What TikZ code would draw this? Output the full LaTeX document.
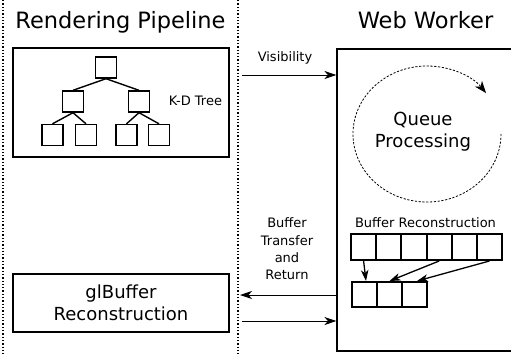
\documentclass[tikz,border=0pt]{standalone}
\usepackage{fontspec}
\setmainfont{DejaVu Sans}
\usetikzlibrary{arrows.meta}
\begin{document}
\begin{tikzpicture}[x=1pt,y=-1pt,
  sep/.style={line width=1.3pt, dash pattern=on 1.3pt off 2pt},
  box/.style={draw, line width=1.1pt, inner sep=0pt},
  sq/.style={draw, line width=1.4pt, minimum width=21pt, minimum height=21pt, inner sep=0pt},
  cell/.style={draw, line width=2pt, minimum width=25.2pt, minimum height=26pt, inner sep=0pt},
  cellb/.style={draw, line width=2pt, minimum width=25pt, minimum height=25pt, inner sep=0pt},
  edge/.style={line width=1.4pt},
  arr/.style={-{Stealth[length=12pt,width=8pt,inset=3.5pt]}, line width=1pt},
  sarr/.style={-{Stealth[length=11pt,width=7.5pt,inset=3pt]}, line width=1.3pt},
  title/.style={font=\fontsize{22.5}{27}\selectfont, anchor=base, inner sep=0pt},
  big/.style={font=\fontsize{18}{22.5}\selectfont, align=center, inner sep=0pt},
  small/.style={font=\fontsize{13}{17.3}\selectfont, align=center, inner sep=0pt}]
\useasboundingbox (0,0) rectangle (511,356);
% separators
\coordinate (s1t) at (3,0); \coordinate (s1b) at (3,356);
\coordinate (s2t) at (238,0); \coordinate (s2b) at (238,356);
\draw[sep] (s1t) -- (s1b);
\draw[sep] (s2t) -- (s2b);
% titles
\node[title] (tl) at (120.5,28) {Rendering Pipeline};
\node[title] (tr) at (425.5,28) {Web Worker};
% KD tree box
\node[box, minimum width=216pt, minimum height=109pt] (kd) at (121,102.5) {};
\node[sq] (root) at (106,67.5) {};
\node[sq] (l) at (73,101.5) {};
\node[sq] (r) at (139,101.5) {};
\node[sq] (ll) at (52.5,135) {};
\node[sq] (lr) at (86,135) {};
\node[sq] (rl) at (126.5,135) {};
\node[sq] (rr) at (159,135) {};
\draw[edge] (root.south) -- (l.north);
\draw[edge] (root.south) -- (r.north);
\draw[edge] (l.south) -- (ll.north);
\draw[edge] (l.south) -- (lr.north);
\draw[edge] (r.south) -- (rl.north);
\draw[edge] (r.south) -- (rr.north);
\node[small, anchor=center] (kdl) at (195.5,100.5) {K-D Tree};
% web worker box
\node[box, minimum width=183pt, minimum height=302pt] (ww) at (428.5,200) {};
% queue
\draw[line width=0.8pt, dash pattern=on 2.2pt off 1.6pt, -{Stealth[length=12pt,width=9pt,inset=3.5pt]}]
  (501,134) arc[start angle=0, end angle=323, x radius=74, y radius=68];
\node[big] (qp) at (423,131.5) {Queue\\Processing};
% buffer reconstruction
\node[small] (brl) at (425.5,223) {Buffer Reconstruction};
\foreach \i in {1,...,6} {
  \node[cell] (t\i) at ({351+12.6+25.17*(\i-1)},247) {};
}
\foreach \i in {1,...,3} {
  \node[cellb] (b\i) at ({352+12.5+25*(\i-1)},294.5) {};
}
\draw[sarr] (t1.south) -- ([xshift=1.5pt]b1.north);
\draw[sarr] (t4.south) -- (b2.north);
\draw[sarr] (t6.south) -- ([xshift=2.5pt]b3.north);
% arrows between columns
\node[small] (vis) at (285,58) {Visibility};
\coordinate (v0) at (242,75);
\draw[arr] (v0) -- (v0 -| ww.west);
\node[small] (btr) at (287,249) {Buffer\\Transfer\\and\\Return};
\coordinate (a0) at (240,295);
\draw[arr] (a0 -| ww.west) -- (a0);
\coordinate (c0) at (242,321);
\draw[arr] (c0) -- (c0 -| ww.west);
% glBuffer box
\node[box, big, minimum width=216pt, minimum height=58pt] (gl) at (121,303) {glBuffer\\Reconstruction};
\end{tikzpicture}
\end{document}
